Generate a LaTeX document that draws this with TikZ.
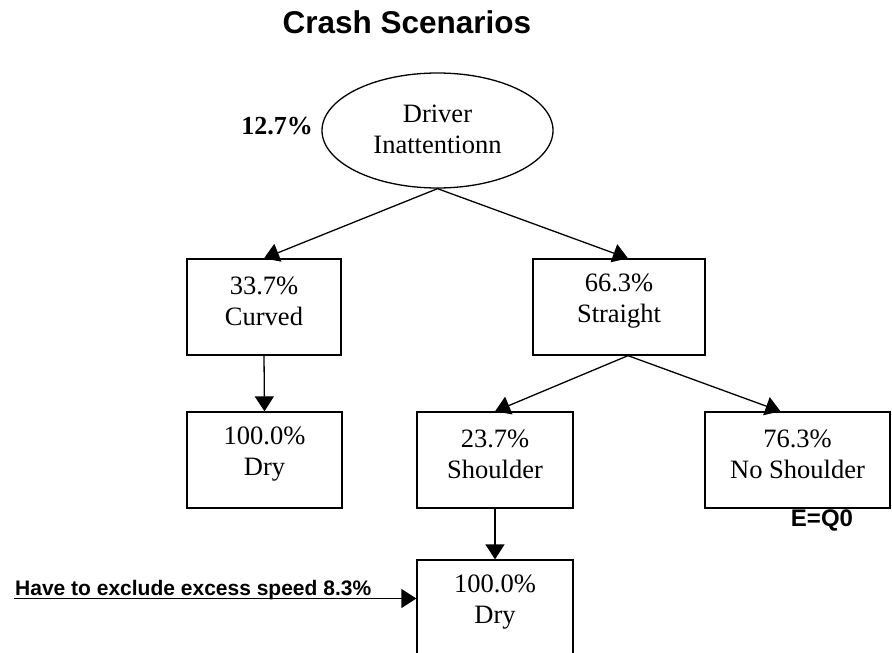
\documentclass[tikz,border=0pt]{standalone}
\usepackage{fontspec}
\setmainfont{Liberation Serif}
\newfontfamily\arialfont{Liberation Sans}
\usetikzlibrary{arrows.meta,shapes.geometric}

\tikzset{
  box/.style={draw=black, line width=1.3pt, rectangle, minimum height=96pt, inner sep=0pt},
  boxtext/.style={align=center, inner sep=0pt, font=\fontsize{26.5}{31}\selectfont},
  oval/.style={draw=black, line width=1.3pt, ellipse, minimum width=231pt, minimum height=115pt, inner sep=0pt},
  conn/.style={line width=1.3pt, -{Triangle[length=15pt,width=19pt]}},
  note/.style={font=\arialfont\bfseries\fontsize{21}{24}\selectfont, inner sep=0pt}
}

\begin{document}
\begin{tikzpicture}[x=1pt, y=-1pt]
  \useasboundingbox (0,0) rectangle (892,653);
  \clip (0,0) rectangle (892,653);

  % title
  \node[font=\arialfont\bfseries\fontsize{31.5}{36}\selectfont, anchor=base, inner sep=0pt] (title) at (407,33) {Crash Scenarios};

  % root
  \node[oval] (root) at (437.5,130.5) {};
  \node[boxtext] (rootlbl) at (437.5,129) {Driver\\Inattentionn};
  \node[font=\bfseries\fontsize{26}{30}\selectfont, anchor=east, inner sep=0pt] (rootpct) at (313,126) {12.7\%};

  % second level
  \node[box, minimum width=154pt] (curved) at (264,307) {};
  \node[boxtext] at ([yshift=6pt]curved.center) {33.7\%\\Curved};
  \node[box, minimum width=172pt] (straight) at (619,307) {};
  \node[boxtext] at ([yshift=6pt]straight.center) {66.3\%\\Straight};

  % third level
  \node[box, minimum width=155pt] (dry1) at (264.5,460) {};
  \node[boxtext] at ([yshift=6pt]dry1.center) {100.0\%\\Dry};
  \node[box, minimum width=156pt] (shoulder) at (495,460) {};
  \node[boxtext] at ([yshift=6pt]shoulder.center) {23.7\%\\Shoulder};
  \node[box, minimum width=185pt] (noshoulder) at (797.5,460) {};
  \node[boxtext] at ([yshift=6pt]noshoulder.center) {76.3\%\\No Shoulder};
  \node[note, font=\arialfont\bfseries\fontsize{24}{27}\selectfont, anchor=center] (eq) at (822,520) {E=Q0};

  % fourth level
  \node[box, minimum width=156pt] (dry2) at (495,608) {};
  \node[boxtext] at ([yshift=6pt]dry2.center) {100.0\%\\Dry};

  % note arrow into the last box
  \coordinate (notestart) at (14,598.5);
  \node[note, anchor=base west] (notetext) at (15,595) {Have to exclude excess speed 8.3\%};

  % connectors
  \draw[conn] (root.south) -- (curved.north);
  \draw[conn] (root.south) -- ([xshift=9pt]straight.north);
  \draw[conn] (curved.south) -- (dry1.north);
  \draw[conn] ([xshift=9pt]straight.south) -- (shoulder.north);
  \draw[conn] ([xshift=9pt]straight.south) -- ([xshift=-17pt]noshoulder.north);
  \draw[conn] (shoulder.south) -- (dry2.north);
  \draw[conn] (notestart) -- (notestart -| dry2.west);
\end{tikzpicture}
\end{document}
